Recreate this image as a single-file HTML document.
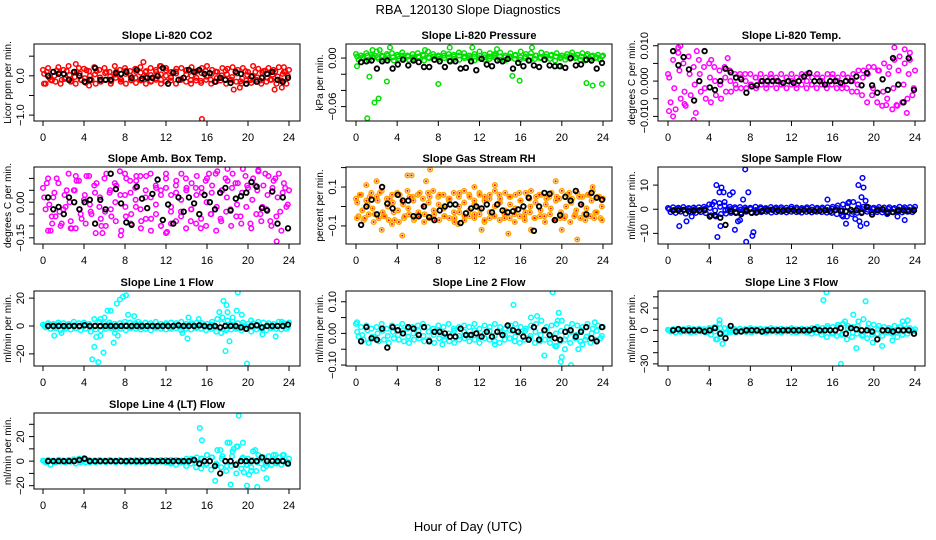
<!DOCTYPE html>
<html><head><meta charset="utf-8">
<style>
html,body{margin:0;padding:0;background:#fff;}
svg{display:block;font-family:"Liberation Sans",Arial,sans-serif;}
</style></head>
<body>
<svg id="chart" width="936" height="540" viewBox="0 0 936 540" xmlns="http://www.w3.org/2000/svg">
<rect width="936" height="540" fill="#fff"/>
<text x="468" y="14" text-anchor="middle" font-size="13">RBA_120130  Slope Diagnostics</text>
<text x="468" y="531" text-anchor="middle" font-size="13">Hour of Day (UTC)</text>
</svg>
<script>
// ---- data ----
const hourTicks=[0,4,8,12,16,20,24];
const p1A=[0.15,0.2,0.1,0.22,0.15,0.25,0.1,0.2,0.18,0.12,0.22,0.15,0.2,0.1,0.25,0.15,0.2,0.12,0.18,0.22,0.1,0.2,0.15,0.25,0.2,0.1,0.18,0.2,0.15,0.22,0.12,0.2,0.25,0.15,0.1,0.2,0.18,0.22,0.15,0.2,0.1,0.25,0.18,0.12,0.2,0.15,0.22,0.1,0.15];
const p1B=[-0.2,-0.1,-0.15,-0.2,-0.05,-0.15,-0.2,-0.1,-0.18,-0.12,-0.2,-0.15,-0.1,-0.2,-0.05,-0.15,-0.2,-0.1,-0.18,-0.12,-0.2,-0.15,-0.1,-0.2,-0.15,-0.05,-0.2,-0.1,-0.15,-0.2,-0.12,-0.18,-0.1,-0.2,-0.15,-0.05,-0.2,-0.1,-0.15,-0.2,-0.12,-0.18,-0.1,-0.2,-0.15,-0.1,-0.2,-0.12,-0.2];
const p1C=[0.05,-0.05,0,0.08,-0.08,0.02,-0.03,0.06,-0.06,0,0.04,-0.04,0.07,-0.02,0.03,-0.07,0.05,0,-0.05,0.08,-0.03,0.02,-0.06,0.04,0,-0.04,0.06,-0.08,0.03,0,-0.05,0.07,-0.02,0.05,-0.06,0.01,0.04,-0.03,0.06,-0.07,0.02,0,-0.04,0.08,-0.05,0.03,-0.02,0.05,0];
const p1D=[0.1,-0.12,0.13,-0.1,0.12,-0.13,0.1,-0.11,0.14,-0.1,0.12,-0.12,0.1,-0.14,0.11,-0.1,0.13,-0.12,0.1,-0.11,0.12,-0.13,0.1,-0.1,0.14,-0.12,0.11,-0.1,0.13,-0.11,0.1,-0.13,0.12,-0.1,0.11,-0.12,0.13,-0.1,0.1,-0.14,0.12,-0.11,0.1,-0.12,0.13,-0.1,0.11,-0.13,0.1];
const p1OutH=[9.8,3.2,16.8,15.5,18.6,22.6,19.2,4.5,23.3,0.1,11.4,23.5];
const p1OutV=[0.35,0.3,1.45,-1.1,-0.35,-0.35,-0.3,-0.25,-0.3,-0.2,0.25,0.22];
const p1Black=[0,0.1,0.05,0.05,-0.1,0.1,0,-0.15,-0.1,0.2,-0.1,-0.1,-0.1,0.07,0.05,0.1,-0.05,0.15,-0.07,-0.05,-0.05,0,0.2,-0.2,0.08,-0.1,-0.05,0.15,0.1,0.15,0.05,0.07,-0.15,-0.05,-0.1,-0.18,0.1,0.05,-0.2,-0.02,-0.15,-0.05,0.05,0.1,-0.1,-0.15,-0.05];

const p2A=[0.005,0.003,0.006,0.004,0.008,0.003,0.005,0.006,0.004,0.007,0.003,0.005,0.006,0.004,0.008,0.005,0.003,0.006,0.005,0.004,0.007,0.006,0.003,0.005,0.008,0.004,0.006,0.005,0.007,0.003,0.006,0.004,0.008,0.005,0.006,0.003,0.007,0.005,0.004,0.006,0.003,0.005,0.007,0.004,0.006,0.005,0.003,0.004,0.003];
const p2B=[-0.002,0,-0.003,0.001,-0.001,-0.002,0,-0.003,-0.001,0,-0.002,-0.001,0.001,-0.003,0,-0.002,-0.001,0,-0.003,-0.001,-0.002,0,-0.001,-0.003,0,-0.002,-0.001,0.001,-0.002,-0.003,0,-0.001,-0.002,0,-0.003,-0.001,0,-0.002,-0.001,-0.003,0,-0.002,-0.001,0,-0.002,-0.003,-0.001,0,-0.002];
const p2C=[0.002,0.001,0.003,0.002,0.001,0.002,0.003,0.001,0.002,0.003,0.002,0.001,0.002,0.003,0.001,0.002,0.002,0.003,0.001,0.002,0.003,0.002,0.001,0.002,0.003,0.001,0.002,0.003,0.002,0.001,0.002,0.003,0.001,0.002,0.002,0.003,0.001,0.002,0.003,0.002,0.001,0.002,0.003,0.001,0.002,0.003,0.002,0.001,0.002];
const p2OutH=[0.1,1.1,1.3,1.8,2.2,3.0,8.0,15.2,15.9,22.4,23.0,23.9,3.3,9.1,11.3,17.1,1.6,2.3,6.7,13.7,19.7];
const p2OutV=[-0.01,-0.0745,-0.023,-0.055,-0.05,-0.029,-0.032,-0.022,-0.028,-0.031,-0.034,-0.032,0.013,0.013,0.013,0.013,0.01,0.01,0.01,0.011,-0.01];
const p2Black=[-0.005,-0.004,-0.003,-0.013,-0.004,-0.003,-0.013,-0.008,-0.002,-0.009,-0.003,-0.005,-0.011,-0.011,-0.002,-0.004,-0.011,-0.004,-0.004,-0.013,-0.012,-0.004,-0.015,-0.001,-0.008,-0.010,-0.003,-0.004,-0.001,-0.013,-0.006,-0.010,-0.003,-0.009,-0.011,-0.002,-0.009,-0.010,-0.010,-0.012,0,-0.009,-0.008,-0.002,-0.003,-0.013,-0.006];

const p3A=[0.002,0.006,0.008,0.005,0.007,0.004,0.006,0.004,0.005,0.004,0.003,0.004,0.003,0.002,0.002,0.002,0.002,0.001,0.002,0.001,0.002,0.001,0.002,0.001,0.002,0.001,0.002,0.002,0.001,0.002,0.001,0.002,0.002,0.001,0.002,0.001,0.002,0.003,0.003,0.004,0.004,0.003,0.005,0.004,0.006,0.007,0.005,0.008,0.003];
const p3B=[-0.006,-0.008,-0.005,-0.007,-0.004,-0.009,-0.003,-0.005,-0.006,-0.004,-0.005,-0.003,-0.003,-0.002,-0.002,-0.002,-0.001,-0.002,-0.001,-0.002,-0.001,-0.002,-0.001,-0.002,-0.001,-0.002,-0.001,-0.002,-0.001,-0.002,-0.001,-0.002,-0.001,-0.002,-0.002,-0.002,-0.003,-0.003,-0.004,-0.006,-0.004,-0.006,-0.007,-0.005,-0.008,-0.007,-0.006,-0.005,-0.004];
const p3C=[0.001,-0.002,0.003,-0.003,0.002,-0.001,0.002,-0.002,0.001,0,-0.001,0.001,0,-0.001,0.001,0,-0.001,0.001,0,-0.001,0.001,0,-0.001,0.001,0,-0.001,0.001,0,-0.001,0.001,0,-0.001,0.001,0,-0.001,0.001,0,-0.001,0.001,0.002,-0.002,0.003,-0.003,0.002,-0.002,0.003,-0.001,0.002,-0.002];
const p3OutH=[0.5,2.5,1.2,2.8,5.8,21.2,22.2,23.2,22.0,23.0,0.1,1.6,1.0,4.2,23.5];
const p3OutV=[-0.01,-0.011,0.01,0.0085,0.0065,-0.0068,-0.0068,-0.009,0.0095,0.009,-0.0085,-0.0065,0.0095,0.006,0.006];
const p3Black=[0.0085,0.0045,0.0068,0.0033,-0.0055,0,0.0085,-0.0018,-0.0025,0,0.0035,0.0025,0.001,0.0005,-0.0033,-0.0015,-0.0012,0,0,0,0,-0.0005,0,-0.0005,0,0.0013,0.0023,0,0,-0.001,0,0,-0.0005,0,0,0.0013,-0.0012,0.0023,-0.0012,-0.0033,0.0005,-0.0025,0.0065,-0.001,-0.006,0.0065,-0.0025];

const p4A=[0.06,0.1,0.02,0.08,-0.03,0.12,0.05,0.09,0.01,0.11,0.07,-0.02,0.1,0.04,0.08,0.13,0.03,0.09,0.06,0.11,0.02,0.12,0.07,0.05,0.1,0.03,0.09,0.12,0.06,0.08,0.11,0.04,0.1,0.07,0.13,0.05,0.09,0.12,0.08,0.14,0.06,0.1,0.13,0.07,0.11,0.09,0.12,0.08,0.05];
const p4B=[-0.03,-0.12,-0.06,-0.1,-0.02,-0.08,-0.11,-0.05,-0.09,-0.04,-0.13,-0.07,-0.1,-0.03,-0.08,-0.14,-0.06,-0.09,-0.02,-0.11,-0.07,-0.12,-0.05,-0.1,-0.13,-0.04,-0.08,-0.06,-0.11,-0.03,-0.09,-0.07,-0.1,-0.05,-0.12,-0.08,-0.04,-0.1,-0.06,-0.09,-0.02,-0.11,-0.05,-0.08,-0.03,-0.1,-0.06,-0.12,-0.02];
const p4C=[0.02,-0.01,0.04,-0.04,0.03,0,0.05,-0.03,0.03,-0.01,0.04,0.02,-0.04,0.05,0,0.03,-0.02,0.04,0.01,-0.03,0.05,0.02,-0.01,0.03,0.06,-0.02,0.04,0.01,0.05,-0.03,0.03,0.06,0,0.04,-0.02,0.05,0.02,0.06,-0.01,0.04,0.07,0.01,0.05,-0.02,0.03,0.06,0.02,0.04,-0.01];
const p4D=[0.08,-0.06,0.1,-0.09,0.05,-0.11,0.09,-0.07,0.11,-0.05,0.08,-0.1,0.12,-0.06,0.07,-0.12,0.1,-0.05,0.09,-0.08,0.11,-0.07,0.06,-0.1,0.12,-0.09,0.07,-0.04,0.1,-0.08,0.06,-0.11,0.09,-0.05,0.12,-0.07,0.1,-0.03,0.08,-0.06,0.11,-0.09,0.07,-0.05,0.12,-0.08,0.1,-0.04,0.06];
const p4OutH=[0.5,3.2,5.8,8.0,9.1,16.2,18.0,21.0,22.8,12.1,2.7,0.9];
const p4OutV=[-0.12,0.11,-0.13,0.12,0.11,0.12,0.14,0.135,-0.165,-0.125,-0.11,-0.09];
const p4Black=[0.02,-0.03,-0.02,-0.05,0.02,0,-0.03,0,0.01,-0.09,0.01,-0.03,0.12,0.055,-0.005,-0.085,-0.095,0.065,0.015,-0.025,0.035,0.095,-0.075,-0.01,-0.09,0.02,-0.04,0.02,-0.005,-0.05,0.03,0,-0.03,0.04,0.06,-0.035,0.015,0.025,0.04,0.085,0.065,-0.025,-0.035,0.045,-0.09,0.02,-0.11];

const p5A=[0.04,0.06,0.03,0.07,0.05,0.08,0.04,0.06,0.07,0.03,0.08,0.05,0.06,0.04,0.07,0.08,0.05,0.06,0.04,0.07,0.05,0.08,0.06,0.03,0.07,0.05,0.06,0.08,0.04,0.07,0.05,0.06,0.03,0.07,0.08,0.05,0.06,0.04,0.07,0.05,0.08,0.06,0.04,0.07,0.05,0.06,0.08,0.05,0.04];
const p5B=[-0.05,-0.07,-0.04,-0.08,-0.06,-0.05,-0.07,-0.03,-0.08,-0.06,-0.04,-0.07,-0.05,-0.08,-0.06,-0.04,-0.07,-0.05,-0.06,-0.08,-0.03,-0.07,-0.05,-0.06,-0.04,-0.08,-0.06,-0.05,-0.07,-0.04,-0.06,-0.08,-0.05,-0.07,-0.03,-0.06,-0.05,-0.08,-0.04,-0.07,-0.06,-0.05,-0.08,-0.04,-0.06,-0.07,-0.05,-0.03,-0.06];
const p5C=[0.02,-0.02,0.01,-0.01,0.03,-0.03,0,0.02,-0.02,0.01,-0.01,0.03,-0.03,0,0.02,-0.02,0.01,-0.01,0.03,-0.03,0,0.02,-0.02,0.01,-0.01,0.03,-0.03,0,0.02,-0.02,0.01,-0.01,0.03,-0.03,0,0.02,-0.02,0.01,-0.01,0.03,-0.03,0,0.02,-0.02,0.01,-0.01,0.03,-0.03,0];
const p5D=[0.06,-0.06,0.05,-0.04,0.07,-0.05,0.04,-0.07,0.06,-0.05,0.05,-0.06,0.07,-0.04,0.05,-0.07,0.06,-0.05,0.04,-0.06,0.07,-0.05,0.05,-0.04,0.06,-0.07,0.04,-0.05,0.06,-0.06,0.05,-0.04,0.07,-0.05,0.04,-0.06,0.06,-0.05,0.05,-0.07,0.04,-0.06,0.07,-0.05,0.05,-0.04,0.06,-0.06,0.05];
const p5OutH=[1.0,2.0,4.5,5.0,5.4,7.2,6.8,11.5,13.5,2.5,12.2,14.8,17.0,19.4,20.0,21.5,23.0,23.9,0.1,3.5,9.9];
const p5OutV=[0.11,0.13,-0.15,0.16,0.16,0.19,0.13,0.1,0.11,-0.12,-0.12,-0.14,-0.12,0.13,-0.12,-0.17,0.1,-0.07,-0.06,-0.09,-0.09];
const p5Black=[-0.095,0,0.035,-0.04,0.1,0.015,-0.01,0.06,0.03,0.03,-0.05,-0.05,0,-0.055,-0.07,-0.02,0,0.01,0.01,-0.085,-0.035,-0.01,0,-0.01,0.01,-0.03,0.01,-0.02,-0.03,-0.025,-0.015,0,0.045,-0.125,0,0.07,0.065,-0.07,-0.045,0.05,0.03,0.08,0.01,-0.04,0.07,0.045,0.035];

const p6A=[0.5,0.8,0.6,0.9,0.5,0.7,0.8,1.0,2.0,3.0,2.5,1.5,1.0,0.8,0.9,0.7,0.6,1.0,0.8,0.5,0.9,0.7,0.8,0.6,1.0,0.7,0.5,0.8,0.9,0.6,0.7,0.8,1.0,1.5,2.0,2.5,3.0,2.0,1.0,0.8,0.6,0.9,0.7,0.8,0.5,1.0,0.8,0.9,1.0];
const p6B=[-1.2,-1.5,-1,-1.8,-1.3,-1.5,-1.2,-1.6,-2.5,-3,-2,-1.8,-1.5,-1.2,-1.4,-1,-1.3,-1.5,-1.2,-1,-1.4,-1.2,-1.1,-1.3,-1,-1.2,-1.4,-1.1,-1.3,-1,-1.2,-1.4,-1.5,-2,-2.5,-3,-2,-1.5,-1.2,-1,-1.4,-1.2,-1.3,-1,-1.2,-1.1,-1.3,-1,-1.2];
const p6C=[0,-0.3,0.2,-0.2,0.1,0,-0.3,0.2,0.5,-0.5,1,-0.5,0,0.2,-0.2,0,0.1,-0.3,0.2,0,-0.2,0.1,0,-0.3,0.2,0,-0.1,0.2,-0.2,0,0.1,-0.3,0.2,0.5,-0.5,1,-1,0.5,0,-0.2,0.1,0,-0.3,0.2,0,-0.1,0.2,-0.2,0];
const p6OutH=[1.1,1.8,2.3,4.3,4.7,4.8,5.0,5.1,5.2,5.4,5.5,5.8,6.0,6.3,6.5,6.8,7.0,7.3,7.5,7.6,7.8,8.2,8.3,15.5,17.0,17.3,17.6,18.2,18.5,18.6,18.7,18.8,18.9,19.0,19.2,19.3,21.3,22.3,23.0];
const p6OutV=[-7,-5,-3,2,10,-11.5,7,-7,9,7,3,0,6,7,-8.5,-5,-4.5,4,16.5,-13.5,7,-11,-9.5,4,-3,-6,3,-4,10,-5,-7,5,13,9,3.5,-6,-2,-3,-4.5];
const p6Black=[-0.5,-0.5,-0.3,-0.8,-0.6,-0.5,-0.4,-3,-2.5,-3.5,-6.5,-0.8,-1.5,-2,-0.5,-1.5,-1.2,-0.7,-0.3,-0.2,-0.5,-0.6,-0.4,-0.4,-0.8,-0.3,-0.6,-0.7,-0.6,-0.4,-0.9,-0.3,-0.6,-0.9,-0.3,-0.4,-1.5,1,-2.2,-0.3,0,-1.5,-1.2,-0.6,-0.5,-0.8,-0.5];

const p7A=[1,2,1.5,2.5,2,1.5,3,2,2.5,1.5,5,3,2,2.5,1.5,2,3,2.5,2,1.5,2.5,2,3,1.5,2,2.5,2,3,1.5,2,2.5,2,1.5,3,5,6,4,3,2,2.5,1.5,2,3,2.5,2,1.5,3,2,2.5];
const p7B=[-1,-2,-1.5,-3,-2,-2.5,-1.5,-3,-2,-4,-2.5,-3,-2,-1.5,-2.5,-2,-3,-1.5,-2,-2.5,-2,-3,-1.5,-2,-2.5,-2,-1.5,-3,-2,-2.5,-1.5,-2,-3,-2,-4,-5,-3,-2.5,-2,-3,-2,-4,-2.5,-2,-3,-1.5,-2,-2.5,-2];
const p7C=[0,0.5,-0.5,0.8,-0.8,0,0.5,-0.5,1,-1,0.5,-0.5,0,0.8,-0.8,0,0.5,-0.5,0.8,-0.8,0,0.5,-0.5,0,0.8,-0.8,0.5,-0.5,0,0.8,-0.8,0.5,-0.5,1,-1,2,-2,1,-1,0.5,-0.5,0,0.8,-0.8,0.5,-0.5,0,0.8,-0.8];
const p7OutH=[1.1,1.8,4.8,5.0,5.2,5.4,5.6,5.6,5.9,6.0,6.3,6.6,6.9,7.0,7.2,7.3,7.5,7.8,8.1,8.3,8.9,9.3,13.6,14.1,14.2,15.2,17.2,17.4,17.6,17.8,17.9,18.0,18.2,18.5,18.9,19.0,19.4,19.9,20.3,21.4,22.7,23.3];
const p7OutV=[-7,-5,-24,-15,-8,-26,-7,5,-19,6,11,11,-12,-5,16,-7,19,21,22,8,7,3,-5,-9,6,5,10,-5,18,-18,15,10,-11,6,11,24,8,-27,4,-6,-7.5,3];
const p7Black=[0,0,0,0,0,0,0,0.5,0,0,0,0,0,0,0,0,0,0,0,0,0,0,0,0,0,0.5,0,0,0,0.5,0,-0.5,0,-1,0,0,0,-1,-2,0,0.5,-1,0,0,0,0,1];

const p8A=[0.03,0.02,0.025,0.015,0.02,0.03,0.015,0.025,0.02,0.03,0.015,0.02,0.025,0.03,0.02,0.015,0.025,0.02,0.03,0.015,0.02,0.025,0.02,0.03,0.015,0.025,0.02,0.03,0.02,0.015,0.025,0.03,0.02,0.015,0.025,0.03,0.04,0.02,0.025,0.03,0.04,0.02,0.03,0.025,0.02,0.03,0.015,0.025,0.02];
const p8B=[-0.01,-0.02,-0.03,-0.015,-0.025,-0.02,-0.03,-0.015,-0.02,-0.025,-0.03,-0.02,-0.015,-0.025,-0.02,-0.03,-0.015,-0.02,-0.025,-0.03,-0.02,-0.015,-0.025,-0.02,-0.03,-0.015,-0.02,-0.025,-0.03,-0.02,-0.015,-0.025,-0.03,-0.02,-0.015,-0.03,-0.025,-0.02,-0.03,-0.04,-0.025,-0.02,-0.03,-0.015,-0.025,-0.02,-0.03,-0.02,-0.015];
const p8C=[0.005,-0.005,0.01,-0.01,0,0.008,-0.008,0.005,-0.005,0.01,-0.01,0,0.008,-0.008,0.005,-0.005,0.01,-0.01,0,0.008,-0.008,0.005,-0.005,0.01,-0.01,0,0.008,-0.008,0.005,-0.005,0.01,-0.01,0,0.008,-0.008,0.005,-0.005,0.01,-0.01,0,0.008,-0.008,0.005,-0.005,0.01,-0.01,0,0.008,-0.008];
const p8OutH=[0.1,15.3,17.0,17.6,18.3,19.1,19.6,19.7,19.5,19.9,20.0,20.3,20.9,21.6,22.0,23.2,8.4,13.5];
const p8OutV=[0.035,0.09,0.05,0.055,-0.07,0.13,0.04,0.065,-0.04,-0.09,-0.075,-0.05,-0.1,-0.05,-0.035,0.035,-0.035,-0.035];
const p8Black=[-0.025,0.02,-0.015,-0.02,0.015,-0.045,0.02,0.01,0,0.02,0.015,-0.005,0.02,-0.025,0.005,0.005,0,-0.01,-0.01,0.015,-0.005,-0.005,0,-0.01,0.005,-0.01,0.005,-0.005,0.025,0.01,0.005,-0.01,-0.02,0.02,-0.02,0.01,-0.005,-0.015,-0.02,0.005,0.01,-0.01,0.005,0.02,-0.015,-0.025,0.02];

const p9A=[0.5,1,1.5,1,2,1,1.5,1,2,3,6,2,1.5,1,1.5,1,2,1,1.5,1,2,1,1.5,1,2,1,1.5,1,2,3,2,4,3,5,6,4,3,8,10,6,5,4,3,2,4,3,5,2,1];
const p9B=[-1,-2,-1.5,-1,-2,-1.5,-1,-2,-4,-8,-6,-3,-1.5,-2,-1,-1.5,-2,-1,-1.5,-2,-1,-1.5,-2,-1,-1.5,-2,-1,-2,-3,-2,-4,-6,-3,-5,-4,-8,-6,-3,-5,-7,-4,-3,-5,-2,-3,-6,-4,-3,-1];
const p9C=[0,0.5,-0.5,0.8,-0.8,0,0.5,-0.5,1,-1,2,-2,0,0.8,-0.8,0,0.5,-0.5,0.8,-0.8,0,0.5,-0.5,0,0.8,-0.8,0.5,-0.5,0,1,-1,2,-2,3,-3,2,-2,4,-4,2,-2,1,-1,2,-2,1,-1,0.8,-0.8];
const p9OutH=[5.0,5.3,15.1,15.4,16.8,17.2,18.0,18.3,19.2,19.9,20.8,21.8,22.8,23.3,4.8];
const p9OutV=[9,-12,27,34,-30,8,14,-16,26,-11,-14,-9,8,9,-8];
const p9Black=[0,1,0,0,0,0,-1,0,2,-3,-7,4,-1,-1,0,0,0,-1,0,0,0,0,0,0,0,0,0,1,0,0,0,0,2,-3,2,1,0,0,-1,-8,0,0,-1,0,0,0,-3];

const p10A=[0.5,1,0.5,1,0.5,1,1.5,2,2.5,1,0.5,1,0.5,1,0.5,1,0.5,1,0.5,1,0.5,1,0.5,1,0.5,1,1,0.5,2,2,3,2,5,3,9,4,15,8,12,3,2,8,5,3,4,5,3,5,2];
const p10B=[-1,-3,-1,-0.5,-1,-0.5,-2,-1,-1,-0.5,-1,-0.5,-1,-0.5,-1,-0.5,-1,-0.5,-1,-0.5,-1,-0.5,-1,-0.5,-1,-2,-3,-1,-4,-2,-5,-6,-3,-7,-2,-5,-8,-4,-10,-6,-3,-5,-8,-2,-4,-3,-2,-3,-1];
const p10C=[0,0.5,-0.5,0.8,-0.8,0,0.5,-0.5,1,-1,0.5,-0.5,0,0.8,-0.8,0,0.5,-0.5,0.8,-0.8,0,0.5,-0.5,0,0.8,-0.8,0.5,-0.5,0,1,-1,2,-2,3,-3,2,-4,4,-2,2,-3,1,-1,2,-2,1,-1,0.8,-0.8];
const p10OutH=[15.3,15.5,16.0,16.8,17.3,18.2,18.3,18.6,18.9,19.1,19.5,19.6,19.9,20.1,20.3,20.7,20.9,21.5,21.8,22.7,23.4];
const p10OutV=[27,17,5,-16,9,15,-19,10,12,37,15,-9,-20,-11,-8,9,-21,-6,-14,5,5];
const p10Black=[0,0,0,0,0,0,1,2,0,0,0,0,0,0,0,0,0,0,0,0,0,0,0,0,0,0,0,0,1,-2,0,0,-4,-10,0,0,-3,0,0,0,0,3,0,0,0,0,-2];

// ---- layout ----
const NS="http://www.w3.org/2000/svg";
const svg=document.getElementById('chart');
const cols=[{l:34,r:300,x0:43,x24:289},{l:346,r:612,x0:356,x24:603},{l:658,r:925,x0:668,x24:915}];
const rows=[{t:44,b:121},{t:167,b:244},{t:291,b:366},{t:413,b:489}];
const setOffsets=[0,0.25,0.12,0.37];
const panels=[
 {name:'co2',title:'Slope Li-820 CO2',yl:'Licor ppm per min.',c:0,r:0,ymin:-1.15,ymax:0.81,ticks:[-1,-0.5,0,0.5],labels:{'-1':'\u22121.0','0':'0.0'},col:'#ff0000',sets:[p1A,p1B,p1C,p1D],oh:p1OutH,ov:p1OutV,blk:p1Black},
 {name:'pressure',title:'Slope Li-820 Pressure',yl:'kPa per min.',c:1,r:0,ymin:-0.0778,ymax:0.0174,ticks:[-0.06,-0.04,-0.02,0],labels:{'-0.06':'\u22120.06','0':'0.00'},col:'#00e000',sets:[p2A,p2B,p2C],oh:p2OutH,ov:p2OutV,blk:p2Black},
 {name:'temp',title:'Slope Li-820 Temp.',yl:'degrees C per min.',c:2,r:0,ymin:-0.0113,ymax:0.0105,ticks:[-0.01,-0.005,0,0.005,0.01],labels:{'-0.01':'\u22120.010','0':'0.000','0.01':'0.010'},col:'#ff00ff',sets:[p3A,p3B,p3C],oh:p3OutH,ov:p3OutV,blk:p3Black},
 {name:'amb-box-temp',title:'Slope Amb. Box Temp.',yl:'degrees C per min.',c:0,r:1,ymin:-0.176,ymax:0.148,ticks:[-0.15,-0.1,-0.05,0,0.05,0.1],labels:{'-0.15':'\u22120.15','0':'0.00'},col:'#ff00ff',sets:[p4A,p4B,p4C,p4D],oh:p4OutH,ov:p4OutV,blk:p4Black},
 {name:'gas-rh',title:'Slope Gas Stream RH',yl:'percent per min.',c:1,r:1,ymin:-0.193,ymax:0.203,ticks:[-0.1,0,0.1,0.2],labels:{'-0.1':'\u22120.1','0.1':'0.1'},col:'#ffa500',sets:[p5A,p5B,p5C,p5D],oh:p5OutH,ov:p5OutV,blk:p5Black,dot:'#ff0000'},
 {name:'sample-flow',title:'Slope Sample Flow',yl:'ml/min per min.',c:2,r:1,ymin:-14.4,ymax:17.5,ticks:[-10,0,10],labels:{'-10':'\u221210','0':'0','10':'10'},col:'#0000ff',sets:[p6A,p6B,p6C],oh:p6OutH,ov:p6OutV,blk:p6Black},
 {name:'line1-flow',title:'Slope Line 1 Flow',yl:'ml/min per min.',c:0,r:2,ymin:-28.7,ymax:25.1,ticks:[-20,0,20],labels:{'-20':'\u221220','0':'0','20':'20'},col:'#00ffff',sets:[p7A,p7B,p7C],oh:p7OutH,ov:p7OutV,blk:p7Black},
 {name:'line2-flow',title:'Slope Line 2 Flow',yl:'ml/min per min.',c:1,r:2,ymin:-0.103,ymax:0.134,ticks:[-0.1,-0.05,0,0.05,0.1],labels:{'-0.1':'\u22120.10','0':'0.00','0.1':'0.10'},col:'#00ffff',sets:[p8A,p8B,p8C],oh:p8OutH,ov:p8OutV,blk:p8Black},
 {name:'line3-flow',title:'Slope Line 3 Flow',yl:'ml/min per min.',c:2,r:2,ymin:-31.9,ymax:35.2,ticks:[-30,-20,-10,0,10,20,30],labels:{'-30':'\u221230','0':'0','20':'20'},col:'#00ffff',sets:[p9A,p9B,p9C],oh:p9OutH,ov:p9OutV,blk:p9Black},
 {name:'line4-flow',title:'Slope Line 4 (LT) Flow',yl:'ml/min per min.',c:0,r:3,ymin:-22.7,ymax:39.2,ticks:[-20,-10,0,10,20,30],labels:{'-20':'\u221220','0':'0','20':'20'},col:'#00ffff',sets:[p10A,p10B,p10C],oh:p10OutH,ov:p10OutV,blk:p10Black}
];
function mk(tag,attrs,parent){const e=document.createElementNS(NS,tag);for(const k in attrs)e.setAttribute(k,attrs[k]);(parent||svg).appendChild(e);return e;}
panels.forEach(p=>{
 const C=cols[p.c],R=rows[p.r];
 const g=mk('g',{});
 
 
 const xs=h=>C.x0+(C.x24-C.x0)*h/24;
 const ys=v=>R.b-(v-p.ymin)/(p.ymax-p.ymin)*(R.b-R.t);
 const clip='clip-'+p.name;
 const cp=mk('clipPath',{id:clip},g);mk('rect',{x:C.l,y:R.t,width:C.r-C.l,height:R.b-R.t},cp);
 const pts=mk('g',{'clip-path':'url(#'+clip+')'},g);
 
 
 function dot(h,v,color,sw,inner){
  const c=mk('circle',{cx:xs(h).toFixed(1),cy:ys(v).toFixed(1),r:2.3,fill:'none',stroke:color,'stroke-width':sw},pts);
  
  
  if(inner){mk('circle',{cx:xs(h).toFixed(1),cy:ys(v).toFixed(1),r:1,fill:inner},pts);}
 }
 p.sets.forEach((arr,k)=>{const off=setOffsets[k%4];arr.forEach((v,i)=>dot(off+i*(24-off*2)/(arr.length-1),v,p.col,1.5,p.dot));});
 p.oh.forEach((h,i)=>dot(h,p.ov[i],p.col,1.5,p.dot));
 p.blk.forEach((v,i)=>dot(0.5+i*(23.9-0.5)/(p.blk.length-1),v,'#000',1.8));
 const box=mk('rect',{x:C.l,y:R.t,width:C.r-C.l,height:R.b-R.t,fill:'none',stroke:'#000','stroke-width':1},g);
 
 
 const tt=mk('text',{x:(C.l+C.r)/2,y:R.t-5,'text-anchor':'middle','font-size':11,'font-weight':'bold'},g);
 
 
 tt.textContent=p.title;
 mk('line',{x1:xs(0),x2:xs(24),y1:R.b,y2:R.b,stroke:'#000'},g);
 hourTicks.forEach(h=>{
  mk('line',{x1:xs(h),x2:xs(h),y1:R.b,y2:R.b+5,stroke:'#000'},g);
  const t=mk('text',{x:xs(h),y:R.b+20,'text-anchor':'middle','font-size':11},g);
  
  
  t.textContent=h;
 });
 const tk=p.ticks.filter(v=>v>=p.ymin&&v<=p.ymax);
 mk('line',{x1:C.l,x2:C.l,y1:ys(tk[0]),y2:ys(tk[tk.length-1]),stroke:'#000'},g);
 tk.forEach(v=>{
  mk('line',{x1:C.l-5,x2:C.l,y1:ys(v),y2:ys(v),stroke:'#000'},g);
  const lab=p.labels[String(v)];
  if(lab){
   const yy=ys(v),xx=C.l-10;
   const t=mk('text',{x:xx,y:yy,'text-anchor':'middle','font-size':11,transform:'rotate(-90 '+xx+' '+yy+')'},g);
   
   
   t.textContent=lab;
  }
 });
 const lx=C.l-23,ly=(R.t+R.b)/2;
 const yt=mk('text',{x:lx,y:ly,'text-anchor':'middle','font-size':10,transform:'rotate(-90 '+lx+' '+ly+')'},g);
 
 
 yt.textContent=p.yl;
});
</script>
</body></html>
